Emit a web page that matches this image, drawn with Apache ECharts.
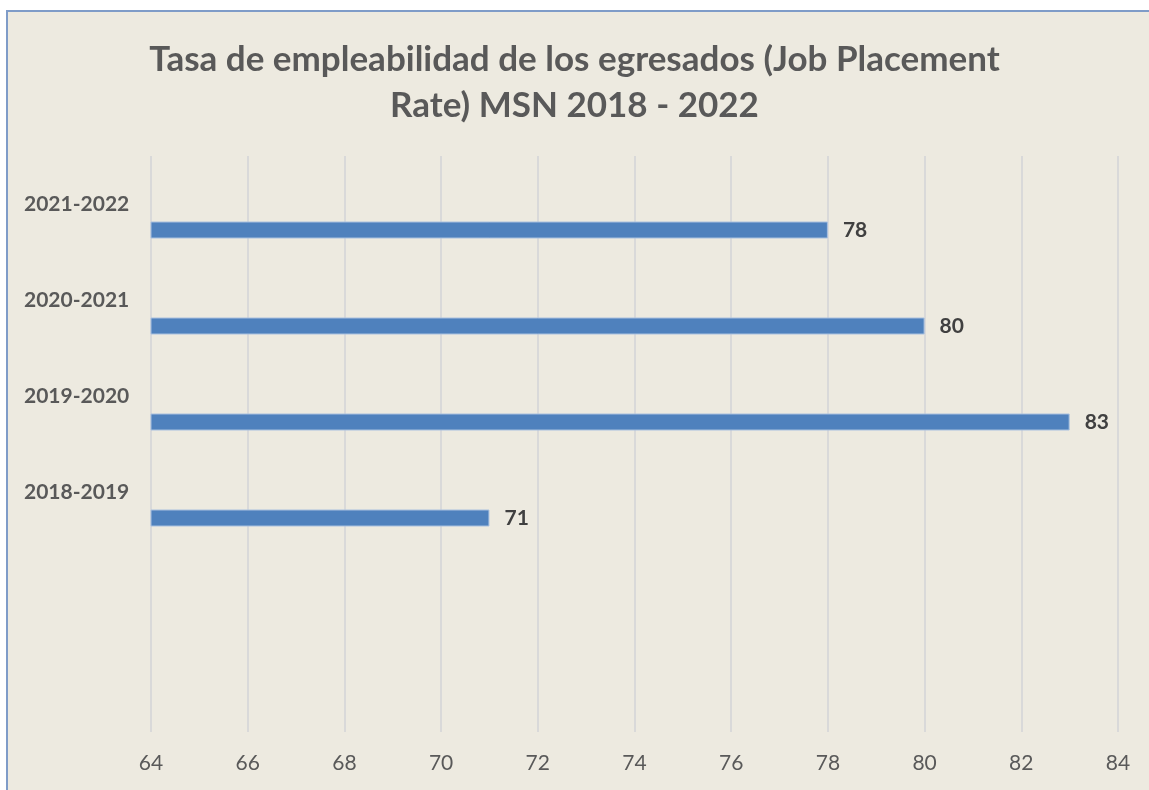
<!DOCTYPE html>
<html>
<head>
<meta charset="utf-8">
<title>Tasa de empleabilidad</title>
<script src="https://cdn.jsdelivr.net/npm/echarts@6/dist/echarts.min.js"></script>
<style>
  html, body { margin: 0; padding: 0; background: #fff; }
  #chart { width: 1149px; height: 790px; }
</style>
</head>
<body>
<div id="chart"></div>
<script>
  // datos del gráfico (de abajo hacia arriba)
  const categories = ['', '', '2018-2019', '2019-2020', '2020-2021', '2021-2022']
  const placementRate = ['-', '-', 71, 83, 80, 78]
  const emptySeries = ['-', '-', '-', '-', '-', '-']
  const xTicks = { min: 64, max: 84, interval: 2 }

  const chart = echarts.init(document.getElementById('chart'))

  chart.setOption({
    backgroundColor: '#ffffff',
    textStyle: { fontFamily: 'Lato, "Open Sans", sans-serif' },
    graphic: [
      {
        type: 'rect',
        z: -10,
        silent: true,
        shape: { x: 7, y: 11, width: 1300, height: 900 },
        style: { fill: '#EDEAE0', stroke: '#7F9CC8', lineWidth: 2 }
      }
    ],
    title: {
      text: 'Tasa de empleabilidad de los egresados (Job Placement\nRate) MSN 2018 - 2022',
      left: 'center',
      top: 32,
      textStyle: {
        fontSize: 35,
        fontWeight: 'bold',
        color: '#595959',
        lineHeight: 46,
        fontFamily: 'Lato, "Open Sans", sans-serif'
      }
    },
    grid: {
      left: 151,
      right: 31,
      top: 156,
      bottom: 58
    },
    xAxis: {
      type: 'value',
      min: xTicks.min,
      max: xTicks.max,
      interval: xTicks.interval,
      axisLine: { show: false },
      axisTick: { show: false },
      axisLabel: { color: '#595959', fontSize: 21, margin: 21 },
      splitLine: { show: true, lineStyle: { color: '#D9D9D9', width: 2 } }
    },
    yAxis: {
      type: 'category',
      data: categories,
      axisLine: { show: false },
      axisTick: { show: false },
      splitLine: { show: false },
      axisLabel: {
        align: 'left',
        margin: 127,
        color: '#595959',
        fontSize: 21,
        fontWeight: 'bold'
      }
    },
    series: [
      {
        name: 'vacío',
        type: 'bar',
        data: emptySeries,
        barWidth: 17,
        silent: true
      },
      {
        name: 'Job Placement Rate',
        type: 'bar',
        data: placementRate,
        barWidth: 17,
        barGap: '206%',
        itemStyle: {
          color: '#4F81BD',
          borderColor: '#A9C0DF',
          borderWidth: 1
        },
        label: {
          show: true,
          position: 'right',
          distance: 15,
          color: '#404040',
          fontSize: 21,
          fontWeight: 'bold'
        }
      }
    ]
  })
</script>
</body>
</html>
